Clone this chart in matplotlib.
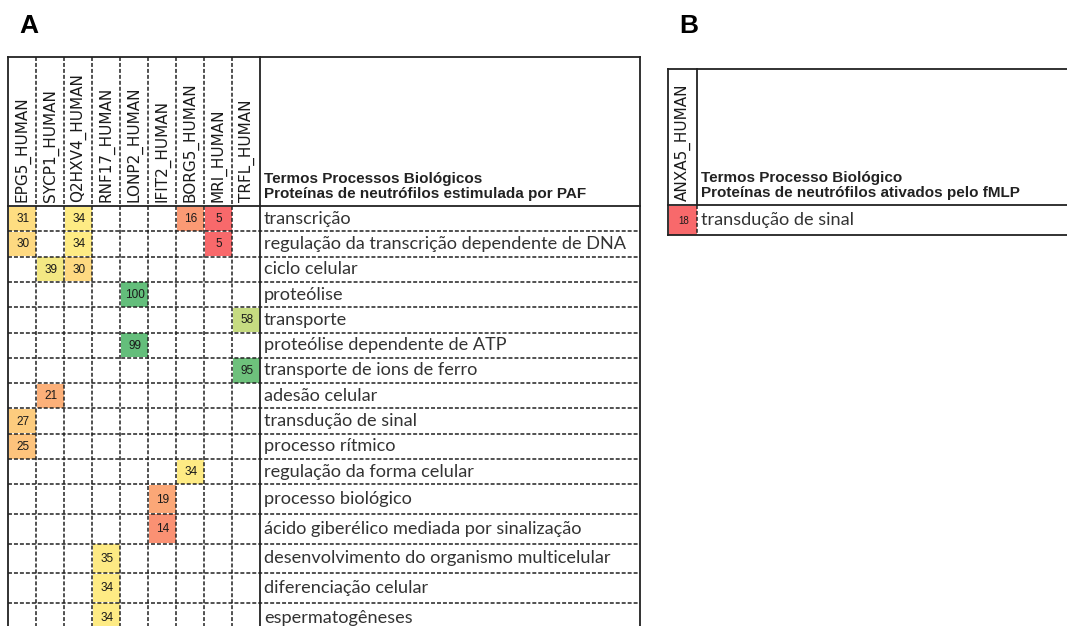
import numpy as np
import matplotlib.pyplot as plt
from matplotlib.patches import Rectangle
from matplotlib.colors import LinearSegmentedColormap, TwoSlopeNorm, Normalize

# Dados painel A
proteinas = ['EPG5_HUMAN', 'SYCP1_HUMAN', 'Q2HXV4_HUMAN', 'RNF17_HUMAN', 'LONP2_HUMAN',
             'IFIT2_HUMAN', 'BORG5_HUMAN', 'MRI_HUMAN', 'TRFL_HUMAN']
termos = ['transcrição', 'regulação da transcrição dependente de DNA', 'ciclo celular',
          'proteólise', 'transporte', 'proteólise dependente de ATP',
          'transporte de ions de ferro', 'adesão celular', 'transdução de sinal',
          'processo rítmico', 'regulação da forma celular', 'processo biológico',
          'ácido giberélico mediada por sinalização', 'desenvolvimento do organismo multicelular',
          'diferenciação celular', 'espermatogêneses']
linhas = [0, 0, 0, 0, 1, 1, 1, 2, 2, 3, 4, 5, 6, 7, 8, 9, 10, 11, 12, 13, 14, 15]
colunas = [0, 2, 6, 7, 0, 2, 7, 1, 2, 4, 8, 4, 8, 1, 0, 0, 6, 5, 5, 3, 3, 3]
valores = [31, 34, 16, 5, 30, 34, 5, 39, 30, 100, 58, 99, 95, 21, 27, 25, 34, 19, 14, 35, 34, 34]
titulo_a = 'Termos Processos Biológicos\nProteínas de neutrófilos estimulada por PAF'

# Dados painel B
proteinas_b = ['ANXA5_HUMAN']
termos_b = ['transdução de sinal']
linhas_b = [0]
colunas_b = [0]
valores_b = [18]
titulo_b = 'Termos Processo Biológico\nProteínas de neutrófilos ativados pelo fMLP'

# escala de cores tipo Excel (vermelho - amarelo - verde)
cmap = LinearSegmentedColormap.from_list('excel', ['#F8696B', '#FFEB84', '#63BE7B'])
norm = TwoSlopeNorm(vmin=5, vcenter=34, vmax=100)
norm_b = Normalize(vmin=min(valores_b), vmax=max(valores_b))

W, H = 1067, 626
fig = plt.figure(figsize=(W / 100, H / 100), dpi=100)
ax = fig.add_axes([0, 0, 1, 1])
ax.set_xlim(0, W)
ax.set_ylim(H, 0)
ax.axis('off')

cor_linha = '#222222'
tracejado = (0, (2.6, 1.3))
lw_t = 1.1
lw_s = 1.3


def tabela(x0, larg_col, larg_termo, y_topo, y_cab, alturas, nomes, termos_t, lin, col, vals,
           nrm, titulo, x_fim=None, fs_num=8.5):
    nc = len(nomes)
    bordas_x = x0 + larg_col * np.arange(nc + 1)
    xt = bordas_x[-1]
    x_dir = xt + larg_termo if x_fim is None else x_fim
    bordas_y = y_cab + np.concatenate([[0], np.cumsum(alturas)])
    y_fim = bordas_y[-1]

    # celulas coloridas
    for r, c, v in zip(lin, col, vals):
        ax.add_patch(Rectangle((bordas_x[c] + 0.5, bordas_y[r] + 0.5), larg_col - 1,
                               alturas[r] - 1, facecolor=cmap(nrm(v)), edgecolor='none', zorder=1))
        ax.text((bordas_x[c] + bordas_x[c + 1]) / 2 + 1, (bordas_y[r] + bordas_y[r + 1]) / 2 + 0.5,
                str(v), ha='center', va='center', fontsize=fs_num, color='#1a1a1a',
                family='Liberation Sans', zorder=3)

    # linhas tracejadas
    for y in bordas_y[1:-1]:
        ax.plot([bordas_x[0], x_dir], [y, y], color=cor_linha, lw=lw_t, ls=tracejado, zorder=2)
    if x_fim is None:
        ax.plot([bordas_x[0], x_dir], [bordas_y[-1]] * 2, color=cor_linha, lw=lw_t, ls=tracejado,
                zorder=2)
    for x in bordas_x[1:-1]:
        ax.plot([x, x], [y_topo, y_fim], color=cor_linha, lw=lw_t, ls=tracejado, zorder=2)

    # bordas solidas
    ax.plot([bordas_x[0], x_dir], [y_topo, y_topo], color=cor_linha, lw=lw_s, zorder=2)
    ax.plot([bordas_x[0], x_dir], [y_cab, y_cab], color=cor_linha, lw=lw_s, zorder=2)
    ax.plot([bordas_x[0], bordas_x[0]], [y_topo, y_fim], color=cor_linha, lw=lw_s, zorder=2)
    ax.plot([xt, xt], [y_topo, y_cab], color=cor_linha, lw=lw_s, zorder=2)
    if x_fim is None:
        ax.plot([xt, xt], [y_cab, y_fim], color=cor_linha, lw=lw_s, zorder=2)
        ax.plot([x_dir, x_dir], [y_topo, y_fim], color=cor_linha, lw=lw_s, zorder=2)
    else:
        ax.plot([xt, xt], [y_cab, y_fim], color=cor_linha, lw=lw_t, ls=tracejado, zorder=2)
        ax.plot([bordas_x[0], x_dir], [y_fim, y_fim], color=cor_linha, lw=lw_s, zorder=2)

    # rotulos
    for i, nome in enumerate(nomes):
        ax.text((bordas_x[i] + bordas_x[i + 1]) / 2 + 0.5, y_cab - 4, nome, rotation=90,
                ha='center', va='bottom', fontsize=11, color='#1a1a1a', family='DejaVu Sans')
    ax.text(xt + 4, y_cab - 5, titulo, ha='left', va='bottom', fontsize=11,
            fontweight='bold', color='#222222', family='Liberation Sans', linespacing=1.1)
    for i, t in enumerate(termos_t):
        ax.text(xt + 4, (bordas_y[i] + bordas_y[i + 1]) / 2, t, ha='left', va='center',
                fontsize=13.1, color='#333333', family='Lato')


alturas_a = [25.3] * 11 + [29.6] * 5
tabela(8, 28, 380, 57, 206, alturas_a, proteinas, termos, linhas, colunas, valores,
       norm, titulo_a)
tabela(668, 29, 0, 69, 205, [30], proteinas_b, termos_b, linhas_b, colunas_b, valores_b,
       norm_b, titulo_b, x_fim=W + 5, fs_num=7)

fig.text(19 / W, 1 - 26 / H, 'A', fontsize=19, fontweight='bold', family='Liberation Sans',
         va='center', ha='left')
fig.text(679 / W, 1 - 26 / H, 'B', fontsize=19, fontweight='bold', family='Liberation Sans',
         va='center', ha='left')

fig.savefig('out.png', dpi=100)
